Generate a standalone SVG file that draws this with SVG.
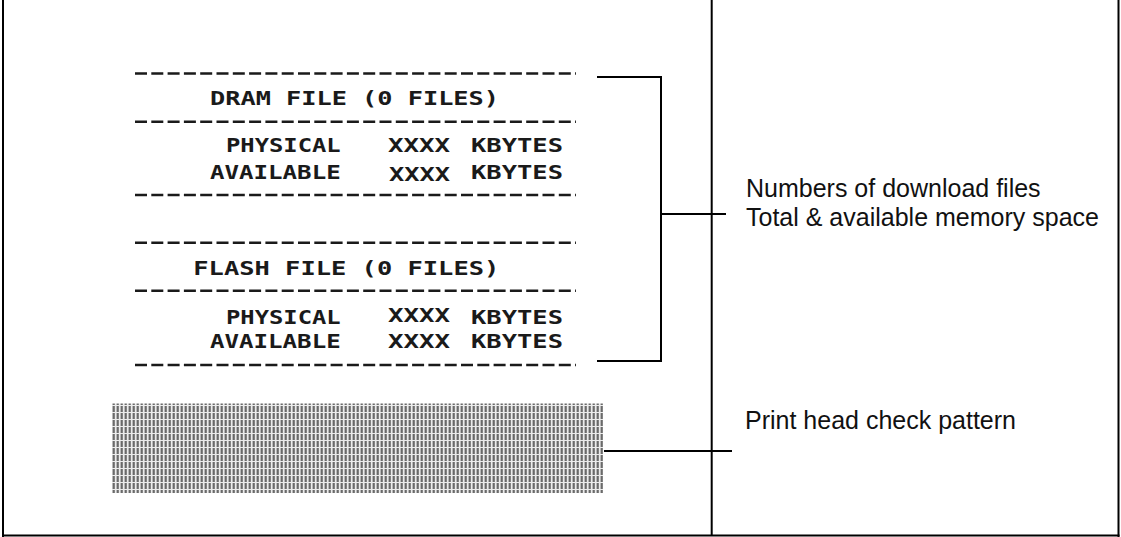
<svg xmlns="http://www.w3.org/2000/svg" width="1121" height="537" viewBox="0 0 1121 537">
  <style>
    .frame { stroke: #000; stroke-width: 2; fill: none; }
    .conn { stroke: #000; stroke-width: 2; fill: none; }
    .dash { stroke: #1a1a1a; stroke-width: 2.6; stroke-dasharray: 12 4.3; fill: none; }
    .rc { font-family: "DejaVu Sans Mono", "Liberation Mono", monospace; font-weight: bold; font-size: 19.5px; fill: #1a1a1a; }
    .lbl { font-family: "Liberation Sans", Arial, sans-serif; font-size: 25px; fill: #111; }
  </style>
  <defs>
    <pattern id="stripes" patternUnits="userSpaceOnUse" width="4" height="7">
      <rect x="0" y="0" width="4" height="7" fill="#ececec"/>
      <rect x="0.6" y="0" width="2.2" height="6" fill="#6a6a6a"/>
    </pattern>
  </defs>
  <rect width="1121" height="537" fill="#fff"/>

  <g id="frame">
    <line class="frame" x1="3" y1="0" x2="3" y2="537"/>
    <line class="frame" x1="1118.5" y1="0" x2="1118.5" y2="537"/>
    <line class="frame" x1="2" y1="535.5" x2="1119.5" y2="535.5"/>
    <line class="frame" x1="711.7" y1="0" x2="711.7" y2="536"/>
  </g>

  <g id="dram-section">
    <line class="dash" x1="135" y1="73.5" x2="576" y2="73.5"/>
    <text class="rc" x="210" y="105" textLength="289" lengthAdjust="spacingAndGlyphs">DRAM FILE (0 FILES)</text>
    <line class="dash" x1="135" y1="121.7" x2="576" y2="121.7"/>
    <text class="rc" x="226" y="152.3" textLength="114.7" lengthAdjust="spacingAndGlyphs">PHYSICAL</text>
    <text class="rc" x="388" y="152.3" textLength="62" lengthAdjust="spacingAndGlyphs">XXXX</text>
    <text class="rc" x="471" y="152.3" textLength="92" lengthAdjust="spacingAndGlyphs">KBYTES</text>
    <text class="rc" x="210" y="179" textLength="130.7" lengthAdjust="spacingAndGlyphs">AVAILABLE</text>
    <text class="rc" x="389" y="181" textLength="61" lengthAdjust="spacingAndGlyphs">XXXX</text>
    <text class="rc" x="471" y="179" textLength="92" lengthAdjust="spacingAndGlyphs">KBYTES</text>
    <line class="dash" x1="135" y1="195" x2="576" y2="195"/>
  </g>

  <g id="flash-section">
    <line class="dash" x1="135" y1="242.7" x2="576" y2="242.7"/>
    <text class="rc" x="193.3" y="275" textLength="306" lengthAdjust="spacingAndGlyphs">FLASH FILE (0 FILES)</text>
    <line class="dash" x1="135" y1="290.7" x2="576" y2="290.7"/>
    <text class="rc" x="226" y="324" textLength="114.7" lengthAdjust="spacingAndGlyphs">PHYSICAL</text>
    <text class="rc" x="388" y="322" textLength="62" lengthAdjust="spacingAndGlyphs">XXXX</text>
    <text class="rc" x="471" y="324" textLength="92" lengthAdjust="spacingAndGlyphs">KBYTES</text>
    <text class="rc" x="210" y="348.3" textLength="130.7" lengthAdjust="spacingAndGlyphs">AVAILABLE</text>
    <text class="rc" x="388" y="348.3" textLength="62" lengthAdjust="spacingAndGlyphs">XXXX</text>
    <text class="rc" x="471" y="348.3" textLength="92" lengthAdjust="spacingAndGlyphs">KBYTES</text>
    <line class="dash" x1="135" y1="365" x2="576" y2="365"/>
  </g>

  <g id="check-pattern">
    <rect x="112" y="403.5" width="491" height="89.5" fill="url(#stripes)"/>
  </g>

  <g id="connectors">
    <polyline class="conn" points="597,77 661,77 661,361 597,361"/>
    <line class="conn" x1="661" y1="214" x2="726" y2="214"/>
    <line class="conn" x1="604" y1="451" x2="732" y2="451"/>
  </g>

  <g id="label-memory">
    <text class="lbl" x="746" y="196.7">Numbers of download files</text>
    <text class="lbl" x="746" y="225.7">Total &amp; available memory space</text>
  </g>

  <g id="label-pattern">
    <text class="lbl" x="745" y="429">Print head check pattern</text>
  </g>
</svg>
